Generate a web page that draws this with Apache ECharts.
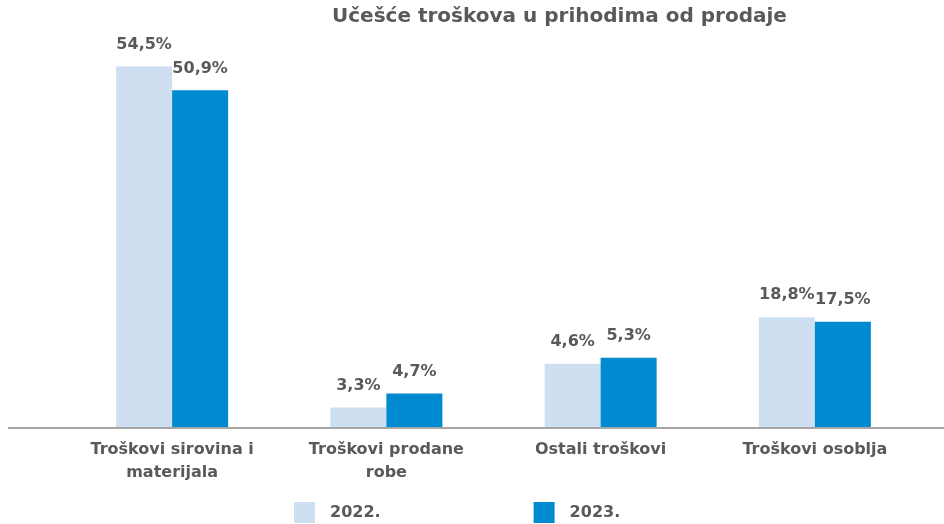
<!DOCTYPE html>
<html>
<head>
<meta charset="utf-8">
<script src="https://cdn.jsdelivr.net/npm/echarts@6/dist/echarts.min.js"></script>
<style>
html,body{margin:0;padding:0;background:#fff;}
#chart{width:944px;height:524px;}
</style>
</head>
<body>
<div id="chart"></div>
<script>
const titleText = 'Učešće troškova u prihodima od prodaje';
const categories = ['Troškovi sirovina i\nmaterijala', 'Troškovi prodane\nrobe', 'Ostali troškovi', 'Troškovi osoblja'];
const seriesNames = ['2022.', '2023.'];
// bar heights as drawn in the picture
const values2022 = [54.5, 3.1, 9.7, 16.7];
const values2023 = [50.9, 5.2, 10.6, 16.0];
// value labels as printed in the picture
const labels2022 = ['54,5%', '3,3%', '4,6%', '18,8%'];
const labels2023 = ['50,9%', '4,7%', '5,3%', '17,5%'];

const FONT = '"DejaVu Sans", sans-serif';
const TXT = '#595959';
const colors = ['#cddff0', '#008acf'];

const chart = echarts.init(document.getElementById('chart'), null, {renderer: 'canvas'});

function mkSeries(name, vals, labs, color) {
  return {
    name: name,
    type: 'bar',
    data: vals,
    barWidth: 56,
    barGap: '0%',
    itemStyle: {color: color},
    label: {
      show: true,
      position: 'top',
      distance: 14,
      fontFamily: FONT,
      fontWeight: 'bold',
      fontSize: 16,
      color: TXT,
      formatter: p => labs[p.dataIndex]
    }
  };
}

chart.setOption({
  animation: false,
  backgroundColor: '#ffffff',
  title: {
    text: titleText,
    left: 332,
    top: 7,
    padding: 0,
    textStyle: {fontFamily: FONT, fontWeight: 'bold', fontSize: 20, color: TXT}
  },
  legend: {
    data: seriesNames,
    left: 294,
    top: 502,
    padding: 0,
    icon: 'rect',
    itemWidth: 21,
    itemHeight: 21,
    itemGap: 153,
    textStyle: {fontFamily: FONT, fontWeight: 'bold', fontSize: 16, color: TXT, padding: [0, 0, 0, 10]}
  },
  grid: {left: 65, right: 22, top: 30, bottom: 96, containLabel: false},
  xAxis: {
    type: 'category',
    data: categories,
    axisLine: {show: false},
    axisTick: {show: false},
    axisLabel: {
      interval: 0,
      margin: 10,
      fontFamily: FONT,
      fontWeight: 'bold',
      fontSize: 16,
      lineHeight: 23,
      color: TXT
    }
  },
  yAxis: {
    type: 'value',
    min: 0,
    max: 60,
    interval: 10,
    show: false,
    splitLine: {show: false}
  },
  graphic: [{
    type: 'line',
    z: 100,
    shape: {x1: 8, y1: 428, x2: 944, y2: 428},
    style: {stroke: '#a6a6a6', lineWidth: 2}
  }],
  series: [
    mkSeries(seriesNames[0], values2022, labels2022, colors[0]),
    mkSeries(seriesNames[1], values2023, labels2023, colors[1])
  ]
});
</script>
</body>
</html>
